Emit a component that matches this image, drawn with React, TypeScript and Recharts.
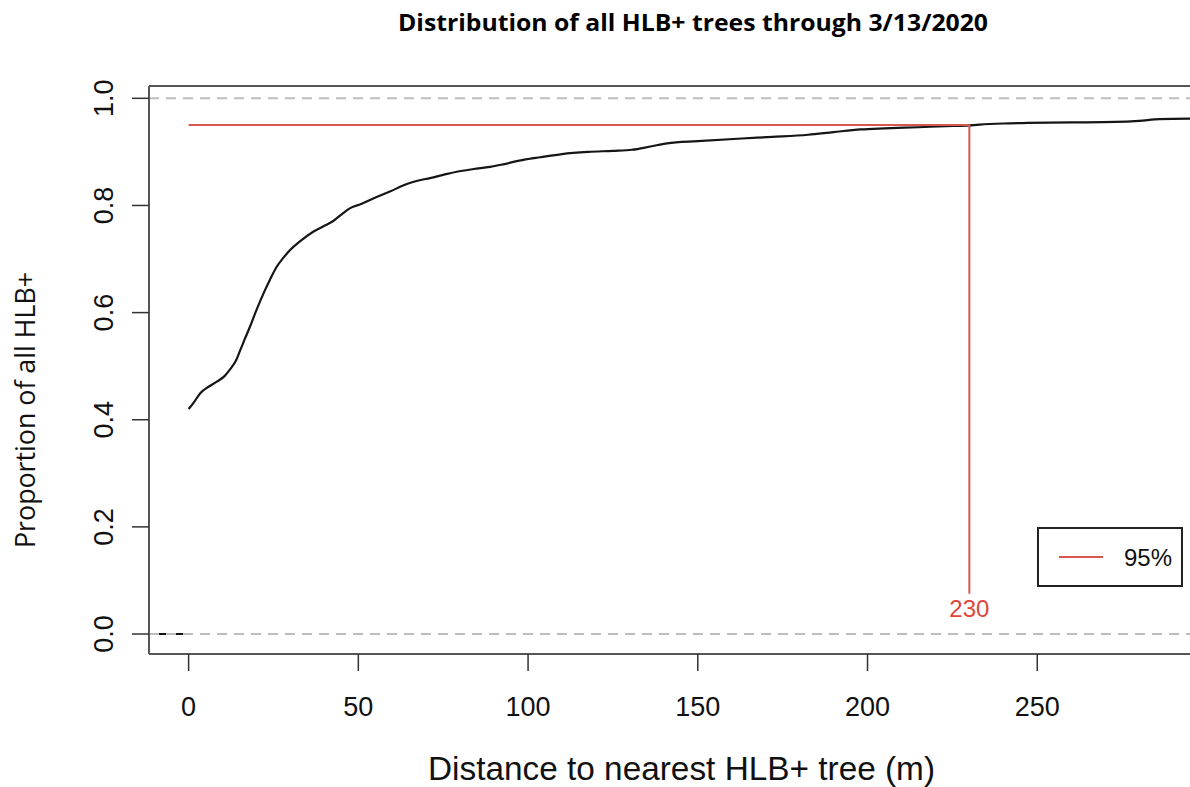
import React from 'react';
import { ComposedChart, Line, XAxis, YAxis, ReferenceLine, ReferenceDot } from 'recharts';

// ECDF of distance to nearest HLB+ tree
const distance = [0, 1.5, 3.5, 6, 8.3, 10.5, 12.2, 14, 15.1, 16.5, 18.1, 20, 22.5, 24, 26, 28, 29.9, 32.8, 36.7, 40, 42.6, 45, 47.6, 51, 54.4, 59.3, 64.3, 68, 71.1, 75, 79, 84, 88.8, 92, 98.6, 103.6, 110, 117.7, 125, 130.6, 136, 141, 150, 163, 172, 182.5, 190, 198, 205, 215, 223, 229, 233, 240, 247, 260, 273, 280, 286, 295];
const proportion = [0.42, 0.432, 0.45, 0.462, 0.471, 0.481, 0.494, 0.511, 0.528, 0.55, 0.574, 0.605, 0.642, 0.662, 0.686, 0.703, 0.717, 0.733, 0.751, 0.762, 0.771, 0.783, 0.795, 0.803, 0.813, 0.826, 0.84, 0.847, 0.851, 0.857, 0.863, 0.868, 0.872, 0.876, 0.885, 0.89, 0.896, 0.9, 0.902, 0.904, 0.91, 0.916, 0.92, 0.925, 0.928, 0.932, 0.937, 0.942, 0.944, 0.946, 0.948, 0.949, 0.951, 0.953, 0.954, 0.955, 0.956, 0.958, 0.961, 0.962];

const tailDistance = [-9, -0.6];
const tailProportion = [0, 0];

const xTicks = [0, 50, 100, 150, 200, 250];
const yTicks = [0, 0.2, 0.4, 0.6, 0.8, 1.0];

const cutoffDistance = 230;
const cutoffProportion = 0.95;
const cutoffLineBottom = 0.075;
const cutoffLabelY = 0.0485;
const cutoffLabel = '230';
const legendLabel = '95%';

const titleText = 'Distribution of all HLB+ trees through 3/13/2020';
const xTitle = 'Distance to nearest HLB+ tree (m)';
const yTitle = 'Proportion of all HLB+';

const X_DOMAIN: [number, number] = [-11.67, 295];
const Y_DOMAIN: [number, number] = [-0.0373, 1.023];

const ecdfData = distance.map((d, i) => ({ x: d, y: proportion[i] }));
const tailData = tailDistance.map((d, i) => ({ x: d, y: tailProportion[i] }));

const RED = '#d8574d';
const SANS = '"Liberation Sans", Arial, sans-serif';

const YTick = (props: any) => {
  const { x, y, payload } = props;
  return (
    <text
      x={x}
      y={y}
      transform={`rotate(-90, ${x}, ${y})`}
      textAnchor="middle"
      fontFamily={SANS}
      fontSize={27}
      fill="#111"
    >
      {Number(payload.value).toFixed(1)}
    </text>
  );
};

export default function App() {
  return (
    <div style={{ position: 'absolute', left: 0, top: 0, width: 1190, height: 787, overflow: 'hidden', background: '#fff' }}>
      <ComposedChart width={1190} height={787} margin={{ top: 86, right: 0, bottom: 0, left: 0 }}>
        <XAxis
          type="number"
          dataKey="x"
          domain={X_DOMAIN}
          allowDataOverflow
          ticks={xTicks}
          interval={0}
          height={133}
          tickSize={17}
          tickMargin={26}
          axisLine={{ stroke: '#555', strokeWidth: 2 }}
          tickLine={{ stroke: '#333', strokeWidth: 1.5 }}
          tick={{ fontFamily: SANS, fontSize: 27, fill: '#111' }}
        />
        <YAxis
          type="number"
          dataKey="y"
          domain={Y_DOMAIN}
          allowDataOverflow
          ticks={yTicks}
          interval={0}
          width={149}
          tickSize={17}
          tickMargin={19}
          axisLine={{ stroke: '#555', strokeWidth: 2 }}
          tickLine={{ stroke: '#333', strokeWidth: 1.5 }}
          tick={<YTick />}
        />
        <ReferenceLine y={Y_DOMAIN[1]} stroke="#555" strokeWidth={2} />
        <Line data={tailData} dataKey="y" type="linear" stroke="#111" strokeWidth={2} dot={false} isAnimationActive={false} />
        <ReferenceLine y={0} stroke="#bdbdbd" strokeWidth={2} strokeDasharray="10 7" />
        <ReferenceLine y={1} stroke="#bdbdbd" strokeWidth={2} strokeDasharray="10 7" />
        <Line data={ecdfData} dataKey="y" type="monotone" stroke="#151515" strokeWidth={2.2} dot={false} isAnimationActive={false} />
        <ReferenceLine
          segment={[{ x: 0, y: cutoffProportion }, { x: cutoffDistance, y: cutoffProportion }]}
          stroke={RED}
          strokeWidth={2}
        />
        <ReferenceLine
          segment={[{ x: cutoffDistance, y: cutoffProportion }, { x: cutoffDistance, y: cutoffLineBottom }]}
          stroke={RED}
          strokeWidth={2}
        />
        <ReferenceDot
          x={cutoffDistance}
          y={cutoffLabelY}
          r={0}
          fill="none"
          stroke="none"
          label={{ value: cutoffLabel, position: 'center', fill: '#e0453a', fontSize: 24, fontFamily: SANS }}
        />
      </ComposedChart>

      <svg width={1190} height={787} style={{ position: 'absolute', left: 0, top: 0, pointerEvents: 'none' }}>
        <text x={693} y={31} textAnchor="middle" fontFamily="'Open Sans', Lato, sans-serif" fontWeight={700} fontSize={23} textLength={590} lengthAdjust="spacingAndGlyphs" fill="#000">
          {titleText}
        </text>
        <text x={681.5} y={780} textAnchor="middle" fontFamily={SANS} fontSize={33} textLength={507} lengthAdjust="spacingAndGlyphs" fill="#111">
          {xTitle}
        </text>
        <text x={35} y={410} transform="rotate(-90, 35, 410)" textAnchor="middle" fontFamily="'Open Sans', Lato, sans-serif" fontSize={27} textLength={276} lengthAdjust="spacingAndGlyphs" fill="#111">
          {yTitle}
        </text>
      </svg>

      <div
        style={{
          position: 'absolute',
          left: 1037,
          top: 527,
          width: 146,
          height: 60,
          boxSizing: 'border-box',
          border: '2px solid #222',
          background: '#fff',
        }}
      >
        <svg width={142} height={56} style={{ position: 'absolute', left: 0, top: 0 }}>
          <line x1={20} y1={28} x2={64} y2={28} stroke={RED} strokeWidth={2} />
          <text x={85} y={36.5} fontFamily={SANS} fontSize={24} fill="#111">{legendLabel}</text>
        </svg>
      </div>
    </div>
  );
}
